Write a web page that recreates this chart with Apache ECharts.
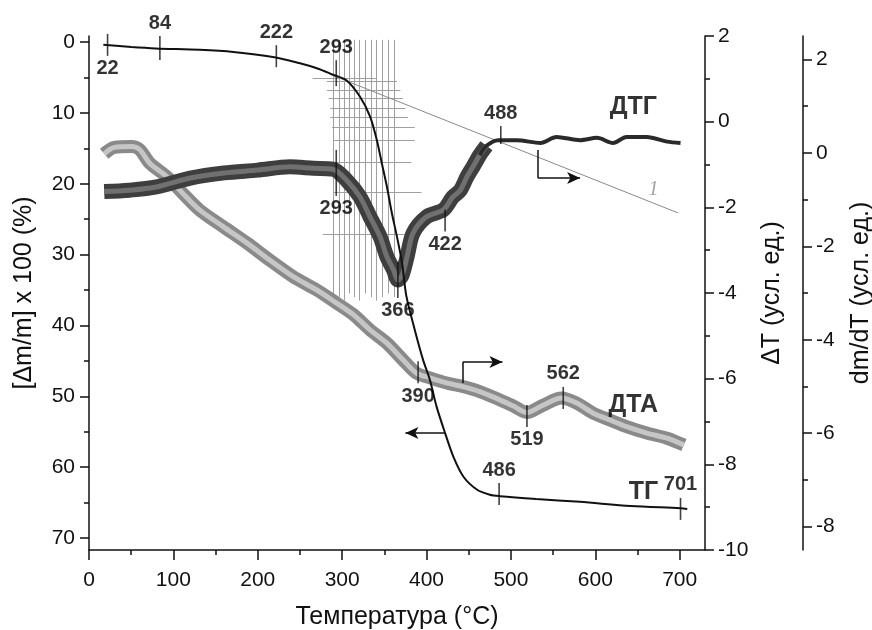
<!DOCTYPE html>
<html>
<head>
<meta charset="utf-8">
<script src="https://cdn.jsdelivr.net/npm/echarts@6/dist/echarts.min.js"></script>
<style>
  html, body { margin: 0; background: #fff; }
  #chart { width: 872px; height: 630px; }
</style>
</head>
<body>
<div id="chart"></div>
<script>
// axis ticks
const tempTicks = [0, 100, 200, 300, 400, 500, 600, 700];
const tempMinorTicks = [50, 150, 250, 350, 450, 550, 650];
const massTicks = [0, 10, 20, 30, 40, 50, 60, 70];
const massMinorTicks = [5, 15, 25, 35, 45, 55, 65];
const dmdtTicks = [2, 0, -2, -4, -6, -8];
const dmdtMinorTicks = [1, -1, -3, -5, -7];

// ТГ, % (left axis)
const tgData = [
  [17, 0.4], [50, 0.7], [79, 0.9], [131, 1.1], [171, 1.4], [218, 2.1], [250, 3.0],
  [270, 3.7], [289, 4.6], [305, 5.4], [321, 7.7], [333, 10.5], [341, 13.8], [347, 17.1],
  [353, 20.4], [359, 24.2], [365, 27.5], [371, 31.2], [376, 35.8], [386, 40.6],
  [396, 44.9], [404, 47.7], [412, 51.5], [422, 55.2], [432, 58.6], [444, 61.4],
  [460, 63.2], [475, 63.9], [487, 64.1], [530, 64.5], [582, 64.9], [642, 65.5],
  [701, 65.8], [709, 65.9]
];
// ДТГ, dm/dT
const dtgData = [
  [18, -0.83], [48, -0.80], [80, -0.73], [120, -0.54], [160, -0.43], [200, -0.37],
  [238, -0.30], [266, -0.33], [289, -0.35], [305, -0.58], [321, -0.94], [333, -1.37],
  [345, -1.80], [353, -2.22], [361, -2.51], [366, -2.72], [371, -2.62], [377, -2.22],
  [384, -1.72], [400, -1.37], [420, -1.22], [431, -0.95], [440, -0.80], [448, -0.51],
  [455, -0.30], [463, -0.05], [471, 0.15], [485, 0.27], [507, 0.27], [535, 0.21],
  [554, 0.34], [582, 0.27], [602, 0.32], [621, 0.21], [637, 0.34], [661, 0.34],
  [685, 0.24], [701, 0.21]
];
// ДТА, ΔT
const dtaData = [
  [18, -0.75], [30, -0.60], [50, -0.58], [60, -0.65], [72, -0.97], [92, -1.28],
  [111, -1.67], [131, -2.06], [159, -2.45], [187, -2.83], [214, -3.23], [242, -3.62],
  [270, -3.93], [293, -4.23], [313, -4.50], [333, -4.86], [353, -5.17], [372, -5.56],
  [388, -5.87], [404, -5.98], [424, -6.10], [444, -6.19], [463, -6.30], [483, -6.46],
  [503, -6.64], [519, -6.79], [538, -6.62], [560, -6.45], [578, -6.57], [597, -6.80],
  [618, -6.97], [637, -7.12], [661, -7.27], [685, -7.39], [705, -7.55]
];
// straight line "1", ΔT
const line1Data = [[285, 1.11], [698, -2.13]];

// gray hatching, % axis: vertical lines [T, bottom], horizontal rows [%, T from, T to]
const hatchCols = [[289, 37], [296, 36], [302, 36.5], [308, 35.5], [314, 36], [320, 36.5],
  [327, 35.5], [334, 36], [341, 36.5], [348, 36], [355, 35.5], [362, 36]];
const hatchTop = -0.3;
const hatchRows = [[5.1, 265, 340], [5.6, 282, 365], [6.8, 282, 369], [7.9, 284, 372],
  [9.3, 286, 375], [10.6, 286, 378], [12.1, 288, 386], [13.8, 290, 386], [17.0, 290, 382],
  [21.2, 290, 394], [27.2, 277, 388]];

// temperature marks on curves: [T, value, text]
const tgMarks = [[22, 0.4, '22'], [84, 0.85, '84'], [222, 2.0, '222'],
  [293, 4.4, '293'], [486, 63.8, '486'], [701, 65.9, '701']];
const dtgMarks = [[293, -0.43, '293'], [366, -2.72, '366'], [422, -1.45, '422'], [488, 0.38, '488']];
const dtaMarks = [[390, -5.85, '390'], [519, -6.87, '519'], [562, -6.45, '562']];

// how each mark is drawn: label side and tick length (px)
const tgMarkLook = [['bottom', 22], ['top', 24], ['top', 22], ['top', 26], ['top', 22], ['top', 22]];
const dtgMarkLook = [['bottom', 46], ['bottom', 36], ['bottom', 22], ['top', 18]];
const dtaMarkLook = [['bottom', 22], ['bottom', 22], ['top', 22]];

// curve names
const tgName = [657, 63.5, 'ТГ'];
const dtgName = [645, 0.98, 'ДТГ'];
const dtaName = [645, -6.62, 'ДТА'];
const line1Name = [669, -1.6, '1'];

// arrows pointing to the axis of each curve
const tgArrow = [[422, 55.2], [375, 55.2]];
const dtaArrow = [[443, -6.10], [443, -5.61], [490, -5.61]];
const dtgArrow = [[532, 0.06], [532, -0.54], [582, -0.54]];

const FONT = "'Liberation Sans', Arial, sans-serif";
const INK = '#111';

function hatchLines() {
  const out = [];
  hatchCols.forEach(c => out.push({ coords: [[c[0], hatchTop], [c[0], c[1]]] }));
  hatchRows.forEach(r => out.push({ coords: [[r[1], r[0]], [r[2], r[0]]] }));
  return out;
}

function markSeries(marks, look, yIdx) {
  return {
    type: 'scatter', yAxisIndex: yIdx, z: 20, silent: true,
    symbol: 'rect',
    itemStyle: { color: INK },
    label: { show: true, formatter: '{b}', color: '#000', fontFamily: FONT, fontWeight: 'bold', fontSize: 20, distance: 3 },
    data: marks.map((m, i) => ({
      name: m[2], value: [m[0], m[1]],
      symbolSize: [1.6, look[i][1]],
      label: { position: look[i][0] }
    }))
  };
}

function nameSeries(item, yIdx, style) {
  return {
    type: 'scatter', yAxisIndex: yIdx, z: 20, silent: true,
    symbolSize: 0.1, itemStyle: { color: 'rgba(0,0,0,0)' },
    label: Object.assign({ show: true, position: 'inside', formatter: '{b}', color: '#000', fontFamily: FONT, fontWeight: 'bold', fontSize: 25 }, style || {}),
    data: [{ name: item[2], value: [item[0], item[1]] }]
  };
}

function arrowLines(pts) {
  const segs = [];
  for (let i = 0; i < pts.length - 1; i++) {
    const last = i === pts.length - 2;
    segs.push([{ coord: pts[i], symbol: 'none' }, { coord: pts[i + 1], symbol: last ? 'arrow' : 'none' }]);
  }
  return {
    silent: true, symbolSize: [9, 13], animation: false,
    lineStyle: { color: INK, width: 1.5, type: 'solid' },
    label: { show: false },
    data: segs
  };
}

const axisText = { color: INK, fontFamily: FONT, fontSize: 21 };
const nameText = { color: INK, fontFamily: FONT, fontSize: 25 };
const line = { show: true, onZero: false, lineStyle: { color: INK, width: 1.5 } };
const noLine = { show: false, onZero: false };

const chart = echarts.init(document.getElementById('chart'), null, { renderer: 'canvas' });
chart.setOption({
  animation: false,
  backgroundColor: '#fff',
  grid: { left: 89, right: 167, top: 36, bottom: 80, containLabel: false, outerBoundsMode: 'none' },
  xAxis: [
    {
      type: 'value', min: 0, max: 730, position: 'bottom',
      axisLine: line, splitLine: { show: false },
      axisTick: { show: true, length: 10, customValues: tempTicks, lineStyle: { color: INK, width: 1.5 } },
      axisLabel: { customValues: tempTicks, margin: 20, ...axisText },
      name: 'Температура (°C)', nameLocation: 'middle', nameGap: 55, nameTextStyle: nameText
    },
    {
      type: 'value', min: 0, max: 730, position: 'bottom',
      axisLine: noLine, splitLine: { show: false }, axisLabel: { show: false },
      axisTick: { show: true, length: 5, customValues: tempMinorTicks, lineStyle: { color: INK, width: 1.5 } }
    }
  ],
  yAxis: [
    {
      type: 'value', inverse: true, min: -0.85, max: 71.7, position: 'left',
      axisLine: line, splitLine: { show: false },
      axisTick: { show: true, length: 9, customValues: massTicks, lineStyle: { color: INK, width: 1.5 } },
      axisLabel: { customValues: massTicks, margin: 14, ...axisText },
      name: '[Δm/m] x 100 (%)', nameLocation: 'middle', nameRotate: 90, nameGap: 52, nameTextStyle: nameText
    },
    {
      type: 'value', inverse: true, min: -0.85, max: 71.7, position: 'left',
      axisLine: noLine, splitLine: { show: false }, axisLabel: { show: false },
      axisTick: { show: true, length: 5, customValues: massMinorTicks, lineStyle: { color: INK, width: 1.5 } }
    },
    {
      type: 'value', min: -10, max: 2, interval: 2, position: 'right',
      axisLine: line, splitLine: { show: false },
      axisTick: { show: true, length: 9, lineStyle: { color: INK, width: 1.5 } },
      minorTick: { show: true, splitNumber: 2, length: 5, lineStyle: { color: INK, width: 1.5 } },
      axisLabel: { margin: 13, ...axisText },
      name: 'ΔT (усл. ед.)', nameLocation: 'middle', nameRotate: 90, nameGap: 42, nameTextStyle: nameText
    },
    {
      type: 'value', min: -8.5, max: 2.5, position: 'right', offset: 98,
      axisLine: line, splitLine: { show: false },
      axisTick: { show: true, length: 9, customValues: dmdtTicks, lineStyle: { color: INK, width: 1.5 } },
      axisLabel: { customValues: dmdtTicks, margin: 13, ...axisText },
      name: 'dm/dT (усл. ед.)', nameLocation: 'middle', nameRotate: 90, nameGap: 46, nameTextStyle: nameText
    },
    {
      type: 'value', min: -8.5, max: 2.5, position: 'right', offset: 98,
      axisLine: noLine, splitLine: { show: false }, axisLabel: { show: false },
      axisTick: { show: true, length: 5, customValues: dmdtMinorTicks, lineStyle: { color: INK, width: 1.5 } }
    }
  ],
  series: [
    {
      type: 'lines', coordinateSystem: 'cartesian2d', xAxisIndex: 0, yAxisIndex: 0, z: 1, silent: true,
      lineStyle: { color: '#a0a0a0', width: 1, opacity: 1 },
      data: hatchLines()
    },
    {
      type: 'line', yAxisIndex: 2, z: 2, silent: true, symbol: 'none',
      lineStyle: { color: '#8a8a8a', width: 1 }, data: line1Data
    },
    // ДТА: gray band of hollow squares
    {
      type: 'line', yAxisIndex: 2, z: 3, silent: true, symbol: 'none', smooth: 0.3,
      lineStyle: { color: '#8a8a8a', width: 13 }, data: dtaData,
      markLine: arrowLines(dtaArrow)
    },
    {
      type: 'line', yAxisIndex: 2, z: 4, silent: true, symbol: 'none', smooth: 0.3,
      lineStyle: { color: '#c6c6c6', width: 5 }, data: dtaData
    },
    // ДТГ: dark band, thin noisy plateau after 470 °C
    {
      type: 'line', yAxisIndex: 3, z: 5, silent: true, symbol: 'none', smooth: 0.3,
      lineStyle: { color: '#3e3e3e', width: 15 }, data: dtgData.filter(d => d[0] <= 471),
      markLine: arrowLines(dtgArrow)
    },
    {
      type: 'line', yAxisIndex: 3, z: 6, silent: true, symbol: 'none', smooth: 0.3,
      lineStyle: { color: '#707070', width: 5 }, data: dtgData.filter(d => d[0] <= 471)
    },
    {
      type: 'line', yAxisIndex: 3, z: 6, silent: true, symbol: 'none', smooth: 0.3,
      lineStyle: { color: '#2a2a2a', width: 4 }, data: dtgData.filter(d => d[0] >= 463)
    },
    // ТГ
    {
      type: 'line', yAxisIndex: 0, z: 8, silent: true, symbol: 'none', smooth: 0.3,
      lineStyle: { color: INK, width: 2 }, data: tgData,
      markLine: arrowLines(tgArrow)
    },
    markSeries(tgMarks, tgMarkLook, 0),
    markSeries(dtgMarks, dtgMarkLook, 3),
    markSeries(dtaMarks, dtaMarkLook, 2),
    nameSeries(tgName, 0),
    nameSeries(dtgName, 3),
    nameSeries(dtaName, 2),
    nameSeries(line1Name, 2, { color: '#8a8a8a', fontWeight: 'normal', fontStyle: 'italic', fontSize: 20, fontFamily: "'Liberation Serif', serif" })
  ]
});
</script>
</body>
</html>
